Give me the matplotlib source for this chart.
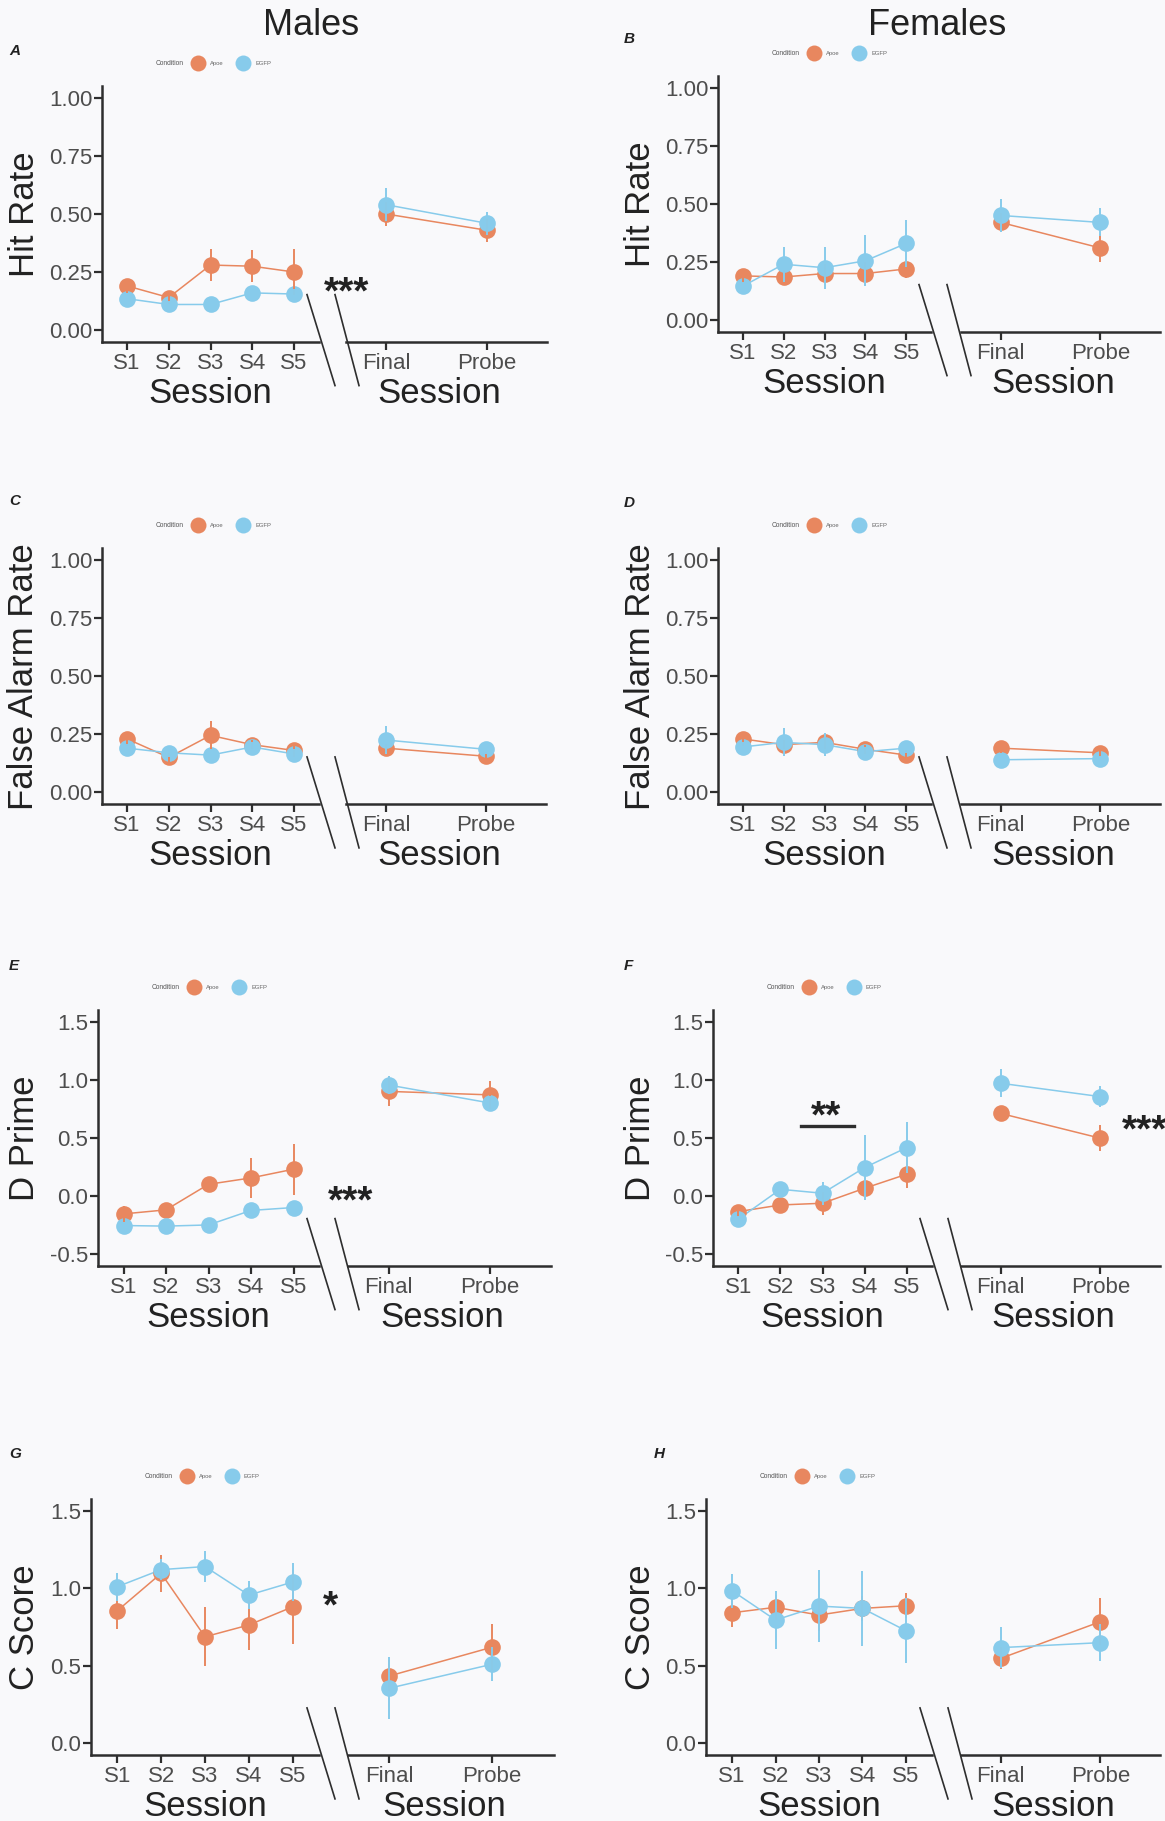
import matplotlib
matplotlib.use('Agg')
import matplotlib.pyplot as plt
from matplotlib.lines import Line2D

W, H = 1165, 1821

plt.rcParams['font.family'] = ['Liberation Sans', 'DejaVu Sans']

sessions = ['S1', 'S2', 'S3', 'S4', 'S5']
phases = ['Final', 'Probe']
conditions = ['Apoe', 'EGFP']
colors = {'Apoe': '#E8875F', 'EGFP': '#87CBEB'}

# values: S1..S5, Final, Probe ; *_se = half length of error bar
# A - hit rate, males
a_apoe = [0.19, 0.14, 0.28, 0.275, 0.25, 0.50, 0.43]
a_apoe_se = [0.03, 0.03, 0.07, 0.07, 0.10, 0.05, 0.05]
a_egfp = [0.135, 0.11, 0.11, 0.16, 0.155, 0.54, 0.46]
a_egfp_se = [0.02, 0.015, 0.01, 0.02, 0.02, 0.07, 0.05]
# B - hit rate, females
b_apoe = [0.19, 0.185, 0.20, 0.20, 0.22, 0.42, 0.31]
b_apoe_se = [0.03, 0.03, 0.04, 0.05, 0.04, 0.04, 0.06]
b_egfp = [0.145, 0.24, 0.225, 0.255, 0.33, 0.45, 0.42]
b_egfp_se = [0.02, 0.075, 0.09, 0.11, 0.10, 0.07, 0.06]
# C - false alarm rate, males
c_apoe = [0.23, 0.15, 0.245, 0.205, 0.18, 0.19, 0.155]
c_apoe_se = [0.03, 0.02, 0.06, 0.02, 0.03, 0.02, 0.02]
c_egfp = [0.19, 0.17, 0.16, 0.195, 0.165, 0.225, 0.185]
c_egfp_se = [0.02, 0.02, 0.01, 0.02, 0.02, 0.06, 0.02]
# D - false alarm rate, females
d_apoe = [0.23, 0.205, 0.215, 0.185, 0.16, 0.19, 0.17]
d_apoe_se = [0.03, 0.02, 0.03, 0.02, 0.02, 0.02, 0.02]
d_egfp = [0.195, 0.215, 0.205, 0.175, 0.19, 0.14, 0.145]
d_egfp_se = [0.02, 0.06, 0.05, 0.02, 0.02, 0.01, 0.01]
# E - d prime, males
e_apoe = [-0.155, -0.12, 0.10, 0.155, 0.23, 0.90, 0.87]
e_apoe_se = [0.07, 0.06, 0.03, 0.17, 0.22, 0.13, 0.12]
e_egfp = [-0.255, -0.26, -0.25, -0.125, -0.10, 0.955, 0.80]
e_egfp_se = [0.03, 0.03, 0.03, 0.03, 0.03, 0.08, 0.06]
# F - d prime, females
f_apoe = [-0.135, -0.078, -0.063, 0.066, 0.187, 0.71, 0.497]
f_apoe_se = [0.05, 0.04, 0.10, 0.07, 0.12, 0.03, 0.11]
f_egfp = [-0.20, 0.057, 0.023, 0.244, 0.416, 0.97, 0.855]
f_egfp_se = [0.03, 0.03, 0.10, 0.28, 0.22, 0.12, 0.09]
# G - c score, males
g_apoe = [0.855, 1.096, 0.687, 0.763, 0.88, 0.434, 0.62]
g_apoe_se = [0.12, 0.12, 0.19, 0.16, 0.24, 0.10, 0.15]
g_egfp = [1.01, 1.12, 1.14, 0.956, 1.04, 0.355, 0.51]
g_egfp_se = [0.09, 0.07, 0.10, 0.09, 0.12, 0.20, 0.11]
# H - c score, females
h_apoe = [0.842, 0.877, 0.827, 0.87, 0.887, 0.548, 0.784]
h_apoe_se = [0.09, 0.08, 0.10, 0.08, 0.08, 0.07, 0.15]
h_egfp = [0.984, 0.795, 0.885, 0.87, 0.726, 0.617, 0.649]
h_egfp_se = [0.11, 0.19, 0.23, 0.24, 0.21, 0.13, 0.12]

ylabels = ['Hit Rate', 'False Alarm Rate', 'D Prime', 'C Score']
yticks_rows = [[0, 0.25, 0.5, 0.75, 1.0], [0, 0.25, 0.5, 0.75, 1.0],
               [-0.5, 0, 0.5, 1.0, 1.5], [0, 0.5, 1.0, 1.5]]
ytick_fmt = ['{:.2f}', '{:.2f}', '{:.1f}', '{:.1f}']
ylims = [(-0.05, 1.05), (-0.05, 1.05), (-0.6, 1.6), (-0.075, 1.575)]

# panel geometry in pixels: yspine x, left axis end, right axis start/end, axes top/bottom
geom = {
    'A': (102, 319, 346, 547, 86.4, 341.6),
    'B': (718, 931, 961, 1160, 76.1, 331.6),
    'C': (102, 319, 346, 546, 548.4, 803.9),
    'D': (718, 931, 961, 1160, 548.4, 803.9),
    'E': (98, 319, 348, 551, 1010.1, 1265.6),
    'F': (713, 932, 961, 1160, 1010.1, 1265.6),
    'G': (91, 319, 348, 554, 1499.1, 1754.9),
    'H': (706, 932, 961, 1160, 1499.1, 1754.9),
}
letter_pos = {'A': (9, 55), 'B': (624, 43), 'C': (9, 505), 'D': (624, 507),
              'E': (9, 970), 'F': (624, 970), 'G': (9, 1458), 'H': (654, 1458)}

data = {
    'A': (a_apoe, a_apoe_se, a_egfp, a_egfp_se),
    'B': (b_apoe, b_apoe_se, b_egfp, b_egfp_se),
    'C': (c_apoe, c_apoe_se, c_egfp, c_egfp_se),
    'D': (d_apoe, d_apoe_se, d_egfp, d_egfp_se),
    'E': (e_apoe, e_apoe_se, e_egfp, e_egfp_se),
    'F': (f_apoe, f_apoe_se, f_egfp, f_egfp_se),
    'G': (g_apoe, g_apoe_se, g_egfp, g_egfp_se),
    'H': (h_apoe, h_apoe_se, h_egfp, h_egfp_se),
}

DARK = '#2E2E2E'
TICKC = '#4D4D4D'
BG = '#F9F9FB'


def fx(x):
    return x / W


def fy(y):
    return 1 - y / H


def rect(x0, x1, top, bottom):
    return [x0 / W, 1 - bottom / H, (x1 - x0) / W, (bottom - top) / H]


fig = plt.figure(figsize=(W / 100, H / 100), dpi=100, facecolor=BG)


def style(ax, row):
    ax.set_facecolor('none')
    ax.spines[['top', 'right']].set_visible(False)
    for s in ('left', 'bottom'):
        ax.spines[s].set_linewidth(1.8)
        ax.spines[s].set_color(DARK)
    ax.set_ylim(ylims[row])
    ax.tick_params(length=5.5, width=1.6, color=DARK, labelsize=16, labelcolor=TICKC)
    ax.tick_params(axis='x', pad=2.7)
    ax.tick_params(axis='y', pad=1.5)


def draw_series(ax, xs, mean, se, c):
    ax.plot(xs, mean, color=c, lw=1.1, zorder=2)
    ax.plot(xs, mean, 'o', ms=12, mew=0, color=c, zorder=3)
    lo = [m - s for m, s in zip(mean, se)]
    hi = [m + s for m, s in zip(mean, se)]
    ax.vlines(xs, lo, hi, color=c, lw=1.4, zorder=4)


for i, key in enumerate('ABCDEFGH'):
    row = i // 2
    sx, lend, r0, r1, top, bot = geom[key]
    axl = fig.add_axes(rect(sx, lend, top, bot))
    axr = fig.add_axes(rect(r0, r1, top, bot))
    style(axl, row)
    style(axr, row)
    axr.spines['left'].set_visible(False)
    axr.tick_params(axis='y', left=False, labelleft=False)

    axl.set_xlim(0.4, 5.6)
    axl.set_xticks(range(1, 6))
    axl.set_xticklabels(sessions)
    axr.set_xlim(0.6, 2.6)
    axr.set_xticks([1, 2])
    axr.set_xticklabels(phases)
    axl.set_yticks(yticks_rows[row])
    axl.set_yticklabels([ytick_fmt[row].format(v) for v in yticks_rows[row]])

    apoe, apoe_se, egfp, egfp_se = data[key]
    for cond, mean, se in (('Apoe', apoe, apoe_se), ('EGFP', egfp, egfp_se)):
        draw_series(axl, range(1, 6), mean[:5], se[:5], colors[cond])
        draw_series(axr, [1, 2], mean[5:], se[5:], colors[cond])

    # axis titles
    fig.text(fx(24 if sx < 500 else 641), fy((top + bot) / 2), ylabels[row],
             rotation=90, ha='center', va='center', fontsize=25, color='#222222')
    fig.text(fx((sx + lend) / 2), fy(bot + 61), 'Session', ha='center',
             va='baseline', fontsize=25, color='#222222')
    fig.text(fx((r0 + r1) / 2 - 7), fy(bot + 61), 'Session', ha='center',
             va='baseline', fontsize=25, color='#222222')

    # axis break marks
    for x0, x1 in ((lend - 12, lend + 16), (lend + 16, lend + 40)):
        fig.add_artist(Line2D([fx(x0), fx(x1)], [fy(bot - 47), fy(bot + 44)],
                              transform=fig.transFigure, color=DARK, lw=1.2))

    # panel letter
    lx, ly = letter_pos[key]
    fig.text(fx(lx), fy(ly), key, fontsize=11, fontweight='bold',
             fontstyle='italic', color='#222222', va='baseline')

    # small legend
    ly = top - 23
    fig.text(fx(sx + 82), fy(ly), 'Condition', fontsize=4.8, color='#555555',
             ha='right', va='center')
    for cond, off in (('Apoe', 96), ('EGFP', 141)):
        fig.add_artist(Line2D([fx(sx + off)], [fy(ly)], marker='o', ms=11.5, mew=0,
                              color=colors[cond], transform=fig.transFigure))
        fig.text(fx(sx + off + 12), fy(ly), cond, fontsize=4.2, color='#666666',
                 ha='left', va='center')

# column titles
fig.text(fx(311), fy(35), 'Males', ha='center', va='baseline', fontsize=26, color='#222222')
fig.text(fx(937), fy(35), 'Females', ha='center', va='baseline', fontsize=26, color='#222222')

# significance annotations
star_kw = dict(ha='center', va='baseline', fontsize=28, fontweight='bold', color='#222222')
fig.text(fx(347), fy(303), '***', **star_kw)
fig.text(fx(351), fy(1212), '***', **star_kw)
fig.text(fx(826), fy(1127), '**', **star_kw)
fig.add_artist(Line2D([fx(801), fx(854)], [fy(1126), fy(1126)],
                      transform=fig.transFigure, color=DARK, lw=2.4))
fig.text(fx(1122), fy(1141), '***', ha='left', va='baseline', fontsize=28,
         fontweight='bold', color='#222222')
fig.text(fx(330), fy(1617), '*', **star_kw)

fig.savefig('out.png', dpi=100, facecolor=BG)
